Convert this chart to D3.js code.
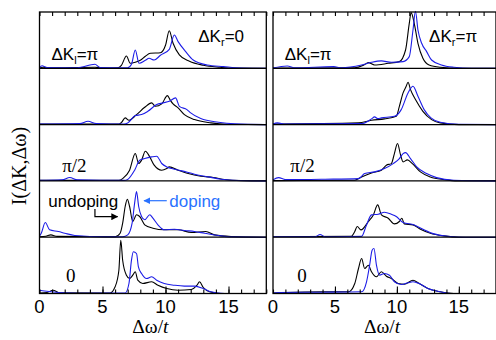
<!DOCTYPE html>
<html>
<head>
<meta charset="utf-8">
<script src="https://cdn.jsdelivr.net/npm/d3@7"></script>
<style>
  html, body { margin: 0; padding: 0; background: #fff; }
  svg { display: block; }
  .sans { font-family: Arial, "Liberation Sans", sans-serif; }
  .serif { font-family: "Times New Roman", "Liberation Serif", serif; }
</style>
</head>
<body>
<svg id="chart" width="496" height="340"></svg>
<script>
// tick values along Δω/t
const omegaTicks = [0, 5, 10, 15];
const omegaMinor = d3.range(0, 19);

// row labels (top to bottom), only some rows carry a label
const rowLabels = ['ΔK_l=π', '', 'π/2', '', '0'];

// spectra, [Δω/t, intensity (arb. units)], rows top (ΔK_l=π) to bottom (ΔK_l=0)
// ΔK_r = 0, undoping (black)
const kr0Undoping = [
  [[0,0.5],[0.3,1],[0.8,0.4],[4.4,1],[5,0.3],[6.2,0.5],[6.5,3],[6.9,12.3],[7.2,5],[7.6,6],[8.0,8],[8.4,12],[8.8,15],[9.6,15.5],[10.0,23],[10.3,37.6],[10.6,25],[11.1,13.5],[11.9,7],[13.0,3],[14.3,1],[15,0.3],[18,0]],
  [[0,0.5],[3,0.5],[6.3,0.5],[6.5,2],[6.8,6.7],[7.1,4.3],[7.7,10],[8.35,17.3],[8.9,21.7],[9.2,18.3],[9.7,20.7],[10.15,29],[10.4,24],[10.6,20.7],[11.0,16.7],[11.5,10],[12.3,5],[13.6,1.7],[15,0.3],[18,0]],
  [[0,0.5],[6.3,0.5],[6.6,2.3],[7.15,10.7],[7.6,27.4],[7.87,17.4],[8.1,20.7],[8.4,29.7],[8.75,24],[9.1,15.7],[9.7,10.7],[10.1,12.4],[10.3,14],[11.0,10.7],[11.8,7.4],[12.8,4.7],[13.8,3.4],[14.7,1.4],[16,0.3],[18,0]],
  [[0,0.5],[0.5,1],[0.9,2.3],[1.4,0.8],[6.0,0.5],[6.4,4],[6.6,14],[6.8,30.7],[6.97,38],[7.15,30.7],[7.4,15.7],[7.7,22.4],[7.95,20.7],[8.35,12.4],[9.0,9],[9.9,7.4],[11.0,7.4],[12.05,4.7],[13.2,5.7],[13.9,2.3],[15.2,0.7],[18,0]],
  [[0,0.5],[0.6,1],[1.07,3.3],[1.6,0.8],[5.6,0.5],[6.0,6.7],[6.3,23.3],[6.45,53.3],[6.6,33.3],[6.9,18.3],[7.15,15],[7.4,18.3],[7.6,21.7],[7.8,13.3],[8.2,10],[8.9,11.7],[9.4,8.3],[10.1,5],[11.0,3.3],[12.05,4],[12.5,8.3],[12.7,11.7],[13.0,6],[13.5,1.7],[14.4,0],[18,0]]
];
// ΔK_r = 0, doping (blue)
const kr0Doping = [
  [[0,0.5],[0.2,2.5],[0.6,0.8],[3,0.5],[4.4,4],[4.8,0.8],[7.0,0.5],[7.3,4],[7.6,18.3],[7.9,5],[8.4,8],[8.7,10],[9.1,8.3],[9.6,13],[10.3,19],[10.7,33.3],[11.0,26.7],[11.6,16.7],[12.2,8.3],[13.3,3.3],[14.6,1.7],[16,0.3],[18,0]],
  [[0,0.5],[3.2,1],[3.85,3.3],[4.5,1],[6.7,0.5],[7.0,1.5],[7.6,9],[8.1,10],[8.6,13.3],[9.3,20],[9.8,21.7],[10.3,23.3],[10.8,26.7],[11.1,18.3],[11.7,15],[12.0,11.7],[12.8,6],[14.2,2.3],[15.5,0.7],[18,0]],
  [[0,0.5],[1.8,1],[2.4,3.4],[3.0,1],[6.7,0.5],[7.0,1.5],[7.55,10.7],[7.95,20.7],[8.35,22.4],[8.9,24],[9.3,24.7],[9.7,17.4],[10.1,14],[10.5,12.4],[11.3,10],[12.3,6.7],[13.4,4],[14.4,1.7],[15.8,0.4],[18,0]],
  [[0,1],[0.14,4],[0.46,14.7],[0.8,7.4],[1.5,5.7],[2.0,4],[2.8,1.7],[5.2,0.3],[6.6,0.5],[7.0,2.3],[7.35,14],[7.55,34],[7.7,45.7],[7.87,30.7],[8.1,20.7],[8.35,17.4],[8.75,22.4],[9.0,19],[9.4,12.4],[9.9,7.4],[10.7,8],[11.5,6.7],[12.3,5.7],[13.1,4],[14.2,1.7],[15.2,0.3],[18,0]],
  [[0,3.3],[0.4,2.5],[1.5,1],[3,0.3],[6.8,0.5],[7.1,10],[7.3,33.3],[7.45,41.7],[7.7,40],[7.85,26.7],[8.1,20],[8.5,15],[8.9,16.7],[9.3,13.3],[9.9,10],[10.7,8.3],[11.5,7.4],[12.3,7.4],[13.0,5],[13.6,1.7],[14.7,0],[18,0]]
];
// ΔK_r = π, undoping (black)
const krPiUndoping = [
  [[0,0.3],[6.6,0.5],[7.3,3],[7.7,5.7],[8.2,3.3],[9.3,5],[10.2,6.7],[10.7,18.3],[11.0,45],[11.15,55.7],[11.4,45],[11.7,25],[12.1,10],[12.6,3.3],[13.5,1],[15,0],[18,0]],
  [[0,0.5],[6.9,1.7],[7.95,4.3],[9.0,5.7],[9.95,8.3],[10.2,18.3],[10.5,31.7],[10.75,38.3],[10.9,42.3],[11.1,35],[11.5,25],[12.1,13.3],[12.8,5],[13.5,1.7],[15,0],[18,0]],
  [[0,0.3],[6.6,0.7],[7.15,4],[7.95,8],[8.75,10.7],[9.15,15.7],[9.55,17.3],[9.8,27.3],[10.05,37.4],[10.3,25.7],[10.5,19],[10.85,21],[11.25,17.3],[11.9,9],[12.7,4],[13.8,1.3],[14.9,0],[18,0]],
  [[0,0.5],[6.3,0.8],[6.6,5.7],[6.8,10.7],[7.1,7.3],[7.7,15.7],[8.1,22.3],[8.45,32.3],[8.75,22.3],[9.3,19],[9.8,13.3],[10.2,15.7],[10.4,19],[10.6,13.3],[11.3,12.3],[11.9,8],[12.7,4],[13.8,1.3],[15,0],[18,0]],
  [[0,0.5],[1.0,1],[4.0,1.7],[6.1,1.7],[6.6,10],[6.9,25],[7.15,35],[7.4,25],[7.7,28.3],[7.95,21.7],[8.35,16.7],[8.75,21.7],[9.15,17.3],[9.55,15],[10.1,10],[10.6,9.3],[11.3,13.3],[11.8,10],[12.5,5],[13.5,1.7],[14.6,0],[18,0]]
];
// ΔK_r = π, doping (blue)
const krPiDoping = [
  [[0,0.3],[1.15,2.3],[1.8,0.5],[4.9,1.7],[5.5,0.5],[7.15,3.3],[7.95,6],[8.75,7.4],[9.55,6],[10.5,6.7],[11.0,11.7],[11.3,38.3],[11.5,57],[11.7,38.3],[12.0,25],[12.4,16.7],[12.8,8.3],[13.6,3.3],[14.6,1],[16,0],[18,0]],
  [[0,0.5],[0.35,1.7],[1,0.5],[7.15,1],[7.95,5.7],[8.2,7.7],[8.45,6],[8.75,6.7],[9.8,8.3],[10.35,15],[10.9,31.7],[11.3,38.3],[11.7,28.3],[12.2,15],[12.75,6.7],[13.5,2.3],[15,0.3],[18,0]],
  [[0,1],[0.45,3.3],[1.0,1.3],[4.2,1.7],[6.9,2.3],[7.4,7.3],[8.2,9],[9.0,12.3],[9.7,17.3],[10.2,22.3],[10.5,27.3],[10.7,28.3],[11.1,22.3],[11.6,14],[12.4,7.3],[13.2,3.3],[14.6,0.7],[18,0]],
  [[0,0.5],[3.4,0.5],[3.8,2.7],[4.2,0.5],[7.15,0.8],[7.55,12.3],[7.95,22.3],[8.5,23],[9.0,25],[9.55,23],[9.95,20.7],[10.5,14.7],[11.4,12.3],[12.1,8],[13.0,3.3],[14.1,1],[15.5,0],[18,0]],
  [[0,0.5],[0.5,1],[3.9,1.3],[7.15,1.7],[7.55,11.7],[7.8,28.3],[8.0,43.3],[8.15,45],[8.35,28.3],[8.6,18.3],[9.0,20],[9.4,18.3],[9.8,11.7],[10.35,9],[10.9,10.7],[11.3,11.7],[11.8,10],[12.5,5],[13.3,2.3],[14.35,0],[18,0]]
];

const panels = [
  {left: 39.5, right: 266.3, kr: '0', undoping: kr0Undoping, doping: kr0Doping},
  {left: 273, right: 496, kr: 'π', undoping: krPiUndoping, doping: krPiDoping}
];

const BLACK = '#000';
const BLUE = '#1c1ce6';
const LABEL_BLUE = '#2a72ff';

const plotTop = 12, rowH = 56.3, nRows = 5;
const plotBottom = plotTop + rowH * nRows;

const svg = d3.select('#chart');
const defs = svg.append('defs');

defs.append('clipPath').attr('id', 'clip-all')
  .append('rect').attr('x', 0).attr('y', plotTop - 2).attr('width', 496).attr('height', plotBottom - plotTop + 2);

panels.forEach((p, pi) => {
  const x = d3.scaleLinear().domain([0, 18]).range([p.left, p.right]);
  const g = svg.append('g');

  // spectra
  for (let r = 0; r < nRows; r++) {
    const y = d3.scaleLinear().domain([0, rowH]).range([plotTop + rowH * (r + 1), plotTop + rowH * r]);
    const line = d3.line().x(d => x(d[0])).y(d => y(d[1])).curve(d3.curveMonotoneX);
    g.append('path').datum(p.undoping[r])
      .attr('fill', 'none').attr('stroke', BLACK).attr('stroke-width', 1.1)
      .attr('clip-path', 'url(#clip-all)')
      .attr('d', line);
    g.append('path').datum(p.doping[r])
      .attr('fill', 'none').attr('stroke', BLUE).attr('stroke-width', 1.1)
      .attr('clip-path', 'url(#clip-all)')
      .attr('d', line);
  }

  // row separators
  for (let r = 1; r < nRows; r++) {
    g.append('line')
      .attr('x1', p.left).attr('x2', p.right)
      .attr('y1', plotTop + rowH * r).attr('y2', plotTop + rowH * r)
      .attr('stroke', BLACK).attr('stroke-width', 1.3);
  }

  // ticks, pointing inward
  g.append('g').attr('transform', `translate(0,${plotTop})`)
    .call(d3.axisTop(x).tickValues(omegaMinor).tickSize(-4).tickFormat(''))
    .call(a => a.select('.domain').remove());
  g.append('g').attr('transform', `translate(0,${plotBottom})`)
    .call(d3.axisBottom(x).tickValues(omegaMinor).tickSize(-4).tickFormat(''))
    .call(a => a.select('.domain').remove());
  g.append('g').attr('transform', `translate(0,${plotBottom})`)
    .call(d3.axisBottom(x).tickValues(omegaTicks.slice(1)).tickSize(-7).tickFormat(''))
    .call(a => a.select('.domain').remove());
  g.selectAll('.tick line').attr('stroke-width', 1.1);

  // frame
  g.append('rect')
    .attr('x', p.left).attr('y', plotTop)
    .attr('width', p.right - p.left).attr('height', plotBottom - plotTop)
    .attr('fill', 'none').attr('stroke', BLACK).attr('stroke-width', 1.3);

  // tick labels
  g.selectAll('text.tl').data(omegaTicks).join('text')
    .attr('class', 'tl sans')
    .attr('x', d => x(d)).attr('y', 312.5)
    .attr('text-anchor', 'middle')
    .attr('font-size', 18.5)
    .text(d => d);

  // x title
  const xt = g.append('text').attr('class', 'serif')
    .attr('x', x(8.8)).attr('y', 333)
    .attr('text-anchor', 'middle').attr('font-size', 19.5);
  xt.append('tspan').text('Δω/');
  xt.append('tspan').attr('font-style', 'italic').text('t');

  // ΔK_r label (top right)
  const kr = g.append('text').attr('class', 'sans')
    .attr('x', x(12.6)).attr('y', 41.7).attr('font-size', 17);
  kr.append('tspan').text('ΔK');
  kr.append('tspan').attr('font-size', 11).attr('dy', 4).text('r');
  kr.append('tspan').attr('dy', -4).text('=' + p.kr);

  // ΔK_l label (row 1)
  const kl = g.append('text').attr('class', 'sans')
    .attr('x', x(0.95)).attr('y', 60).attr('font-size', 17);
  kl.append('tspan').text('ΔK');
  kl.append('tspan').attr('font-size', 11).attr('dy', 4).text('l');
  kl.append('tspan').attr('dy', -4).text('=π');

  // π/2 and 0 row labels
  g.append('text').attr('class', 'serif')
    .attr('x', x(pi === 0 ? 1.8 : 1.4)).attr('y', 172).attr('font-size', 19)
    .text(rowLabels[2]);
  g.append('text').attr('class', 'serif')
    .attr('x', x(pi === 0 ? 2.1 : 1.95)).attr('y', 282).attr('font-size', 19)
    .text(rowLabels[4]);
});

// y title
svg.append('text').attr('class', 'serif')
  .attr('transform', 'translate(26,166) rotate(-90)')
  .attr('text-anchor', 'middle').attr('font-size', 20)
  .text('I(ΔK,Δω)');

// legend annotations in the ΔK_r=0 panel, row 4
const xl = d3.scaleLinear().domain([0, 18]).range([panels[0].left, panels[0].right]);
svg.append('text').attr('class', 'sans')
  .attr('x', xl(0.7)).attr('y', 206.5).attr('font-size', 17).attr('fill', BLACK)
  .text('undoping');
svg.append('text').attr('class', 'sans')
  .attr('x', xl(10.3)).attr('y', 206.5).attr('font-size', 17).attr('fill', LABEL_BLUE)
  .text('doping');

defs.append('marker').attr('id', 'ah-black').attr('viewBox', '0 0 10 10')
  .attr('refX', 9).attr('refY', 5).attr('markerWidth', 7).attr('markerHeight', 7)
  .attr('markerUnits', 'userSpaceOnUse').attr('orient', 'auto')
  .append('path').attr('d', 'M0,0L10,5L0,10Z').attr('fill', BLACK);
defs.append('marker').attr('id', 'ah-blue').attr('viewBox', '0 0 10 10')
  .attr('refX', 9).attr('refY', 5).attr('markerWidth', 7).attr('markerHeight', 7)
  .attr('markerUnits', 'userSpaceOnUse').attr('orient', 'auto')
  .append('path').attr('d', 'M0,0L10,5L0,10Z').attr('fill', LABEL_BLUE);

svg.append('path')
  .attr('d', `M${xl(4.4)},209V216.7H${xl(6.2)}`)
  .attr('fill', 'none').attr('stroke', BLACK).attr('stroke-width', 1.2)
  .attr('marker-end', 'url(#ah-black)');
svg.append('path')
  .attr('d', `M${xl(10.1)},200.7H${xl(8.3)}`)
  .attr('fill', 'none').attr('stroke', LABEL_BLUE).attr('stroke-width', 1.2)
  .attr('marker-end', 'url(#ah-blue)');
</script>
</body>
</html>
